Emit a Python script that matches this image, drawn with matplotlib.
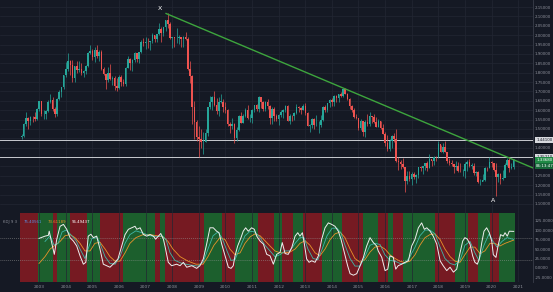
import matplotlib
matplotlib.use('Agg')
import matplotlib.pyplot as plt
import numpy as np

# monthly GBP/USD candles, May 2002 .. Nov 2020
first_open = 1.4580
closes = [
    1.4625, 1.5245, 1.5580, 1.5440, 1.5660, 1.5640, 1.5550, 1.6090,  # 2002 (May-Dec)
    1.6465, 1.5790, 1.5790, 1.5980, 1.6450, 1.6520, 1.6090, 1.5810, 1.6600, 1.6970, 1.7220, 1.7855,
    1.8200, 1.8640, 1.8390, 1.7740, 1.8350, 1.8140, 1.8190, 1.7990, 1.8090, 1.8340, 1.9070, 1.9160,
    1.8840, 1.9200, 1.8890, 1.9090, 1.8200, 1.7920, 1.7610, 1.8010, 1.7650, 1.7700, 1.7290, 1.7170,
    1.7790, 1.7500, 1.7380, 1.8240, 1.8720, 1.8500, 1.8680, 1.9040, 1.8710, 1.9080, 1.9640, 1.9580,
    1.9650, 1.9620, 1.9670, 1.9990, 1.9800, 2.0070, 2.0320, 2.0130, 2.0430, 2.0800, 2.0600, 1.9850,
    1.9890, 1.9840, 1.9850, 1.9880, 1.9790, 1.9910, 1.9820, 1.8200, 1.7830, 1.6150, 1.5380, 1.4590,
    1.4470, 1.4310, 1.4330, 1.4790, 1.6160, 1.6450, 1.6700, 1.6290, 1.5980, 1.6450, 1.6460, 1.6150,
    1.5990, 1.5240, 1.5180, 1.5290, 1.4520, 1.4950, 1.5690, 1.5340, 1.5700, 1.6030, 1.5560, 1.5590,
    1.6020, 1.6260, 1.6040, 1.6700, 1.6450, 1.6050, 1.6430, 1.6240, 1.5580, 1.6080, 1.5680, 1.5540,
    1.5760, 1.5920, 1.5990, 1.6240, 1.5420, 1.5690, 1.5680, 1.5870, 1.6150, 1.6130, 1.6020, 1.6250,
    1.5860, 1.5170, 1.5190, 1.5530, 1.5190, 1.5210, 1.5210, 1.5500, 1.6190, 1.6030, 1.6370, 1.6560,
    1.6440, 1.6740, 1.6660, 1.6880, 1.6750, 1.7110, 1.6880, 1.6590, 1.6210, 1.5990, 1.5640, 1.5580,
    1.5030, 1.5440, 1.4830, 1.5350, 1.5280, 1.5710, 1.5620, 1.5350, 1.5130, 1.5430, 1.5040, 1.4740,
    1.4250, 1.3920, 1.4370, 1.4610, 1.4480, 1.3310, 1.3230, 1.3130, 1.2970, 1.2230, 1.2480, 1.2340,
    1.2580, 1.2410, 1.2550, 1.2950, 1.2890, 1.3030, 1.3200, 1.2930, 1.3400, 1.3280, 1.3520, 1.3500,
    1.4190, 1.3770, 1.4020, 1.3770, 1.3300, 1.3200, 1.3120, 1.2990, 1.3030, 1.2770, 1.2750, 1.2750,
    1.3110, 1.3260, 1.3040, 1.3040, 1.2630, 1.2700, 1.2160, 1.2170, 1.2290, 1.2940, 1.2920, 1.3260,
    1.3200, 1.2820, 1.2420, 1.2590, 1.2340, 1.2400, 1.3090, 1.3370, 1.2910, 1.2950, 1.3368,  # 2020
]
highs = [
    1.4740, 1.5330, 1.5880, 1.5630, 1.5700, 1.5700, 1.5900, 1.6120,
    1.6510, 1.6480, 1.6000, 1.6010, 1.6540, 1.6880, 1.6690, 1.6170, 1.6650, 1.7070, 1.7240, 1.7870,
    1.8550, 1.9050, 1.8700, 1.8700, 1.8370, 1.8600, 1.8630, 1.8500, 1.8170, 1.8430, 1.9100, 1.9470,
    1.9250, 1.9360, 1.9480, 1.9230, 1.9200, 1.8320, 1.7880, 1.8290, 1.8440, 1.7800, 1.7810, 1.7740,
    1.7860, 1.7860, 1.7660, 1.8290, 1.8900, 1.8800, 1.8730, 1.9110, 1.9070, 1.9120, 1.9740, 1.9850,
    1.9880, 1.9870, 1.9700, 2.0130, 2.0000, 2.0080, 2.0660, 2.0450, 2.0440, 2.0830, 2.1160, 2.0700,
    1.9910, 1.9900, 2.0400, 2.0000, 1.9900, 1.9960, 2.0160, 1.9890, 1.8650, 1.7890, 1.6470, 1.5480,
    1.5140, 1.5000, 1.4860, 1.5000, 1.6180, 1.6740, 1.6740, 1.7040, 1.6650, 1.6700, 1.6880, 1.6600,
    1.6460, 1.6060, 1.5360, 1.5580, 1.5300, 1.5120, 1.5730, 1.5910, 1.5820, 1.6100, 1.6300, 1.5820,
    1.6060, 1.6280, 1.6350, 1.6740, 1.6700, 1.6480, 1.6480, 1.6620, 1.6270, 1.6170, 1.6160, 1.5780,
    1.5800, 1.5990, 1.6060, 1.6300, 1.6280, 1.5780, 1.5750, 1.5910, 1.6310, 1.6230, 1.6170, 1.6310,
    1.6380, 1.5890, 1.5260, 1.5600, 1.5600, 1.5750, 1.5400, 1.5720, 1.6210, 1.6260, 1.6380, 1.6600,
    1.6670, 1.6820, 1.6820, 1.6890, 1.6990, 1.7130, 1.7190, 1.6900, 1.6650, 1.6260, 1.6100, 1.5790,
    1.5590, 1.5550, 1.5450, 1.5500, 1.5820, 1.5930, 1.5680, 1.5820, 1.5660, 1.5510, 1.5450, 1.5250,
    1.4820, 1.4670, 1.4460, 1.4680, 1.4770, 1.5020, 1.3480, 1.3370, 1.3440, 1.2970, 1.2770, 1.2780,
    1.2700, 1.2710, 1.2620, 1.2960, 1.3050, 1.3050, 1.3210, 1.3270, 1.3660, 1.3340, 1.3540, 1.3550,
    1.4350, 1.4150, 1.4240, 1.4380, 1.3780, 1.3470, 1.3360, 1.3120, 1.3300, 1.3260, 1.3180, 1.2840,
    1.3220, 1.3340, 1.3380, 1.3200, 1.3180, 1.2780, 1.2780, 1.2310, 1.2580, 1.2990, 1.2980, 1.3520,
    1.3280, 1.3190, 1.3200, 1.2650, 1.2640, 1.2810, 1.3170, 1.3430, 1.3480, 1.3180, 1.3400,
]
lows = [
    1.4485, 1.4580, 1.5180, 1.5020, 1.5220, 1.5390, 1.5450, 1.5480,
    1.5950, 1.5700, 1.5540, 1.5530, 1.5900, 1.6400, 1.5940, 1.5630, 1.5680, 1.6550, 1.6690, 1.7150,
    1.7770, 1.8110, 1.7880, 1.7480, 1.7510, 1.8000, 1.8060, 1.7860, 1.7760, 1.7910, 1.8280, 1.9000,
    1.8660, 1.8550, 1.8760, 1.8620, 1.8160, 1.7870, 1.7140, 1.7510, 1.7600, 1.7330, 1.7090, 1.7050,
    1.7140, 1.7280, 1.7270, 1.7280, 1.8240, 1.8140, 1.8080, 1.8580, 1.8560, 1.8540, 1.9040, 1.9430,
    1.9270, 1.9330, 1.9210, 1.9580, 1.9650, 1.9650, 2.0020, 1.9660, 1.9960, 2.0230, 2.0370, 1.9790,
    1.9340, 1.9360, 1.9600, 1.9540, 1.9360, 1.9380, 1.9720, 1.8150, 1.7440, 1.5280, 1.4470, 1.4360,
    1.3500, 1.3970, 1.3660, 1.4310, 1.4650, 1.6060, 1.6000, 1.6200, 1.5790, 1.5700, 1.6360, 1.5910,
    1.5860, 1.5170, 1.4780, 1.5020, 1.4230, 1.4340, 1.4910, 1.5330, 1.5300, 1.5660, 1.5510, 1.5350,
    1.5340, 1.5900, 1.5950, 1.5930, 1.6100, 1.5940, 1.5970, 1.6080, 1.5270, 1.5270, 1.5420, 1.5420,
    1.5230, 1.5630, 1.5600, 1.5910, 1.5400, 1.5270, 1.5400, 1.5480, 1.5810, 1.5910, 1.5820, 1.6000,
    1.5730, 1.5160, 1.4830, 1.5030, 1.5000, 1.5170, 1.4810, 1.5130, 1.5430, 1.5890, 1.5900, 1.6180,
    1.6250, 1.6250, 1.6460, 1.6460, 1.6690, 1.6690, 1.6860, 1.6540, 1.6050, 1.5890, 1.5590, 1.5540,
    1.4950, 1.4960, 1.4630, 1.4560, 1.5170, 1.5170, 1.5330, 1.5320, 1.5100, 1.5110, 1.5020, 1.4730,
    1.4080, 1.3830, 1.3840, 1.4000, 1.4330, 1.3230, 1.2800, 1.2860, 1.2900, 1.1650, 1.2080, 1.2200,
    1.1990, 1.2340, 1.2110, 1.2370, 1.2770, 1.2590, 1.2810, 1.2770, 1.2910, 1.3030, 1.3080, 1.3300,
    1.3450, 1.3760, 1.3710, 1.3760, 1.3200, 1.3100, 1.3010, 1.2660, 1.2790, 1.2690, 1.2720, 1.2480,
    1.2400, 1.2770, 1.2960, 1.2870, 1.2560, 1.2510, 1.2120, 1.2010, 1.2200, 1.2200, 1.2770, 1.2900,
    1.2960, 1.2730, 1.1410, 1.2160, 1.2080, 1.2250, 1.2480, 1.3010, 1.2680, 1.2860, 1.2860,
]
years = list(range(2003, 2022))
price_ticks = [1.10, 1.15, 1.20, 1.25, 1.30, 1.35, 1.40, 1.45, 1.50, 1.55, 1.60, 1.65, 1.70, 1.75,
               1.80, 1.85, 1.90, 1.95, 2.00, 2.05, 2.10, 2.15]
hidden_ticks = [1.30, 1.35, 1.45]  # covered by the price tags
kdj_ticks = [125, 100, 75, 50, 25, 0, -25]

# KDJ readings (month index from May 2002, value)
j_month = [7.9, 10.6, 12.1, 12.5, 13.6, 14.8, 15.9, 17.4, 18.9, 20.4, 21.9, 23.4, 24.9, 26.4, 27.9, 29.0,
           30.1, 31.3, 32.4, 33.9, 35.4, 36.9, 38.4, 39.9, 42.2, 43.5, 45.2, 46.7, 48.2, 49.7, 51.2, 52.0,
           53.5, 55.0, 56.5, 58.0, 59.5, 60.5, 61.7, 62.8, 64.0, 64.7, 66.2, 67.7, 70.0, 71.5, 73.0, 74.5,
           76.8, 79.0, 80.5, 82.0, 83.5, 85.0, 86.5, 88.0, 89.1, 90.3, 91.8, 93.3, 94.5, 95.5, 96.3, 97.5,
           99.0, 100.0, 101.1, 102.3, 103.8, 105.0, 106.1, 107.6, 109.1, 110.6, 112.1, 113.6, 115.1, 116.6,
           117.6, 118.9, 120.3, 121.9, 123.4, 124.6, 125.6, 126.7, 127.6, 128.6, 129.7, 130.9, 132.4, 133.9,
           135.4, 136.9, 138.4, 139.9, 141.4, 142.9, 144.1, 145.6, 147.1, 148.2, 149.7, 151.2, 152.7, 154.2,
           155.7, 157.2, 158.7, 160.2, 160.9, 162.5, 164.0, 165.2, 166.2, 167.7, 168.8, 169.9, 171.5, 173.0,
           174.5, 176.0, 177.5, 179.0, 180.5, 181.7, 182.8, 184.3, 185.7, 187.3, 188.8, 190.2, 191.8, 193.3,
           194.8, 196.3, 197.8, 199.0, 200.0, 201.1, 202.3, 203.5, 204.5, 205.6, 206.5, 207.6, 208.6, 209.8,
           211.0, 212.1, 212.8, 214.0, 215.0, 216.1, 217.3, 218.1, 219.1, 220.0, 222.0]
j_vals = [78, 84, 86, 97, 67, 36, 76, 110, 115, 102, 80, 71, 58, 32, 10, 15,
          84, 89, 80, 84, 50, 10, 6, 2, 15, 24, 58, 88, 102, 106, 110, 102,
          106, 88, 84, 88, 84, 76, 84, 91, 76, 58, 15, 6, 10, 6, 15, 2,
          6, -1, 6, 24, 63, 106, 106, 97, 93, 63, 32, 2, -1, 6, 32, 58,
          80, 97, 106, 97, 106, 102, 84, 71, 63, 36, 32, 10, 36, 41,
          67, 38, 36, 54, 84, 93, 84, 93, 63, 24, 15, 19, 15, 32,
          76, 106, 119, 115, 110, 97, 76, 41, 6, -15, -19, -15, 6, 28,
          58, 80, 67, 58, 45, 28, -7, -3, 32, 28, -3, 6, 10, 15,
          19, 58, 76, 106, 119, 102, 106, 97, 84, 63, 19, 6, -7, 2,
          -11, -3, 40, 71, 80, 76, 63, 32, 15, 10, 24, 67, 97, 106,
          93, 71, 35, 28, 60, 88, 84, 93, 84, 97, 96.5]
k_month = [10.6, 12.9, 14.7, 16.5, 18.3, 20.1, 21.9, 24.6, 26.4, 28.6, 30.0, 31.8, 34.1, 35.4, 37.7, 39.9,
           42.2, 44.4, 46.7, 48.9, 51.6, 54.8, 58.0, 61.1, 63.4, 65.2, 67.0, 69.2, 72.4, 76.0, 79.6, 81.9,
           84.1, 86.4, 88.6, 90.4, 92.7, 94.5, 96.3, 98.6, 100.8, 103.1, 105.3, 107.6, 109.8, 112.1, 114.3,
           116.6, 118.9, 121.1, 123.4, 125.6, 127.4, 129.2, 131.5, 133.7, 135.6, 137.8, 140.1, 142.3, 144.1,
           145.9, 148.2, 150.4, 152.7, 154.9, 157.2, 159.4, 161.7, 163.9, 166.2, 168.5, 170.7, 173.0, 175.2,
           177.5, 179.7, 182.0, 184.2, 186.5, 188.8, 191.0, 193.3, 195.5, 197.8, 200.0, 202.3, 204.5, 206.3,
           208.6, 210.9, 212.7, 214.5, 216.7, 219.0, 222.0]
k_vals = [70, 85, 60, 65, 95, 100, 90, 72, 50, 25, 50, 78, 80, 65, 30, 12,
          10, 30, 65, 88, 98, 92, 85, 82, 85, 75, 40, 20, 12, 8, 5, 15,
          50, 85, 95, 80, 45, 20, 22, 55, 85, 97, 95, 80, 60, 45, 30,
          35, 45, 45, 65, 80, 80, 50, 25, 22, 50, 85, 105, 105, 92,
          60, 25, 5, 5, 30, 60, 65, 62, 35, 20, 18, 12, 12, 30,
          55, 85, 100, 100, 90, 55, 25, 12, 8, 20, 60, 70, 40, 20,
          60, 90, 70, 55, 70, 80, 75.4]
d_month = [7.9, 10.6, 12.9, 15.2, 17.4, 19.6, 21.9, 24.1, 26.4, 28.6, 30.9, 33.1, 35.4, 37.7, 39.9, 42.2,
           44.4, 46.7, 48.9, 51.6, 54.8, 58.0, 61.1, 63.8, 66.1, 68.3, 71.5, 75.1, 78.7, 81.9, 84.1, 86.8,
           89.5, 91.8, 94.0, 96.3, 98.6, 100.8, 103.1, 105.3, 107.6, 109.8, 112.1, 114.3, 116.6, 118.9, 121.1,
           123.4, 125.6, 127.9, 130.1, 132.4, 134.6, 136.9, 139.2, 141.4, 143.7, 145.9, 148.2, 150.4, 152.7,
           154.9, 157.2, 159.4, 161.7, 163.9, 166.2, 168.5, 170.7, 173.0, 175.2, 177.5, 179.7, 182.0, 184.2,
           186.5, 188.8, 191.0, 193.3, 195.5, 197.8, 200.0, 202.3, 204.5, 206.8, 209.0, 211.3, 213.5, 215.8,
           218.1, 222.0]
d_vals = [12, 30, 50, 60, 70, 85, 88, 80, 65, 45, 45, 65, 68, 50, 30, 18,
          18, 40, 65, 80, 88, 88, 85, 82, 70, 50, 30, 18, 10, 10, 30, 60,
          80, 75, 50, 35, 40, 65, 82, 90, 85, 72, 58, 45, 40, 40, 42,
          50, 65, 72, 60, 40, 32, 50, 75, 90, 95, 80, 50, 25, 15,
          22, 42, 55, 58, 50, 35, 25, 18, 14, 18, 35, 60, 80, 88,
          90, 75, 50, 30, 18, 15, 35, 55, 55, 38, 45, 65, 65, 58,
          65, 73.6]

# trend background bands (start month, end month, direction)
band_start = [-0.5, 7.4, 14.2, 16.0, 21.9, 29.5, 35.4, 45.8, 60.2, 62.5, 64.7, 82.5, 90.5, 96.5, 106.5, 114,
              117.6, 122.5, 127, 135.6, 144.5, 154, 160.8, 165.3, 167.6, 172.1, 186.5, 195.5, 201.4, 205.9,
              211.3, 215.4]
band_end = band_start[1:] + [222.5]
band_dir = ['dn', 'up'] * 16

# drawn levels / trendline
trend_month = [65.2, 230.7]
trend_price = [2.1160, 1.2920]
hlines = [1.4410, 1.3521]

BG = '#151924'
GRID = '#222633'
TXT = '#8d909a'
UP = '#26a69a'
DN = '#ef5350'

opens = [first_open] + closes[:-1]
idx = np.arange(len(closes))
year_pos = [(y - 2002) * 12 - 4 for y in years]

fig = plt.figure(figsize=(5.53, 2.92), dpi=100, facecolor=BG)
ax = fig.add_axes([0, 0.2705, 0.9638, 0.7295], facecolor=BG)
ax2 = fig.add_axes([0, 0.0342, 0.9638, 0.2363], facecolor=BG, sharex=ax)

#%% price panel
for i in idx:
    o, c = opens[i], closes[i]
    col = UP if c >= o else DN
    ax.vlines(i, lows[i], highs[i], color=col, lw=0.5, zorder=3)
    ax.bar(i, max(abs(c - o), 0.002), bottom=min(o, c), width=0.7, color=col, lw=0, zorder=4)

ax.plot(trend_month, trend_price, color='#3da53d', lw=1.0, zorder=5)
for h in hlines:
    ax.axhline(h, color='#c9cbd0', lw=0.7, zorder=2)

ax.set_xlim(-9.7, 230.7)
ax.set_ylim(1.0515, 2.188)
ax.set_xticks(year_pos)
ax.set_yticks(price_ticks)
ax.yaxis.tick_right()
ax.tick_params(axis='y', length=0, pad=1.5, labelsize=2.9, labelcolor=TXT)
ax.set_yticklabels(['' if any(abs(v - h) < 1e-6 for h in hidden_ticks) else '%.5f' % v
                    for v in price_ticks])
ax.tick_params(axis='x', length=0, labelbottom=False)
ax.grid(True, color=GRID, lw=0.5)
for s in ['top', 'left', 'bottom']:
    ax.spines[s].set_visible(False)
ax.spines['right'].set_color('#3a3e4a')
ax.spines['right'].set_linewidth(0.6)

ax.text(62.5, 2.145, 'X', color='white', fontsize=4.5, ha='center', va='center')
ax.text(212.7, 1.118, 'A', color='white', fontsize=4.5, ha='center', va='center')

yt = ax.get_yaxis_transform()
for h in hlines:
    ax.text(1.006, h, '%.5f' % h, transform=yt, fontsize=2.9, color='#151924', va='center', ha='left',
            bbox=dict(facecolor='#d7d9de', edgecolor='none', pad=0.6), clip_on=False)
ax.text(1.006, closes[-1] - 0.004, '%.5f' % closes[-1], transform=yt, fontsize=2.9, color='white',
        va='center', ha='left', bbox=dict(facecolor='#1f8a45', edgecolor='none', pad=0.6), clip_on=False)
ax.text(1.006, closes[-1] - 0.036, '86:13:47', transform=yt, fontsize=2.9, color='white', va='center',
        ha='left', bbox=dict(facecolor='#17683a', edgecolor='none', pad=0.6), clip_on=False)

#%% KDJ panel
for s, e, d in zip(band_start, band_end, band_dir):
    ax2.axvspan(s, e, color='#1c5f2d' if d == 'up' else '#761a22', lw=0, zorder=0)

ax2.plot(d_month, d_vals, color='#e8932a', lw=0.6, zorder=3)
ax2.plot(k_month, k_vals, color='#3fb8a8', lw=0.6, zorder=4)
ax2.plot(j_month, j_vals, color='#eeeeee', lw=0.7, zorder=5)
for lv in [80, 20]:
    ax2.axhline(lv, color='#9a9a9a', lw=0.4, ls=(0, (1.5, 2)), zorder=2)

ax2.set_ylim(-37, 145)
ax2.set_yticks(kdj_ticks)
ax2.set_yticklabels(['%.4f' % v for v in kdj_ticks])
ax2.yaxis.tick_right()
ax2.tick_params(axis='y', length=0, pad=1.5, labelsize=2.9, labelcolor=TXT)
ax2.set_xticks(year_pos)
ax2.set_xticklabels([str(y) for y in years])
ax2.tick_params(axis='x', length=0, pad=2, labelsize=3.2, labelcolor=TXT)
ax2.grid(True, axis='x', color=GRID, lw=0.5)
for s in ['top', 'left', 'bottom']:
    ax2.spines[s].set_visible(False)
ax2.spines['right'].set_color('#3a3e4a')
ax2.spines['right'].set_linewidth(0.6)

ax2.text(0.005, 0.87, 'KDJ 9 3', transform=ax2.transAxes, fontsize=2.8, color=TXT, va='center')
ax2.text(0.045, 0.87, '75.40561', transform=ax2.transAxes, fontsize=2.8, color='#5b8de0', va='center')
ax2.text(0.09, 0.87, '73.61189', transform=ax2.transAxes, fontsize=2.8, color='#e8932a', va='center')
ax2.text(0.135, 0.87, '96.49437', transform=ax2.transAxes, fontsize=2.8, color='white', va='center')

fig.savefig('out.png', dpi=100, facecolor=BG)
